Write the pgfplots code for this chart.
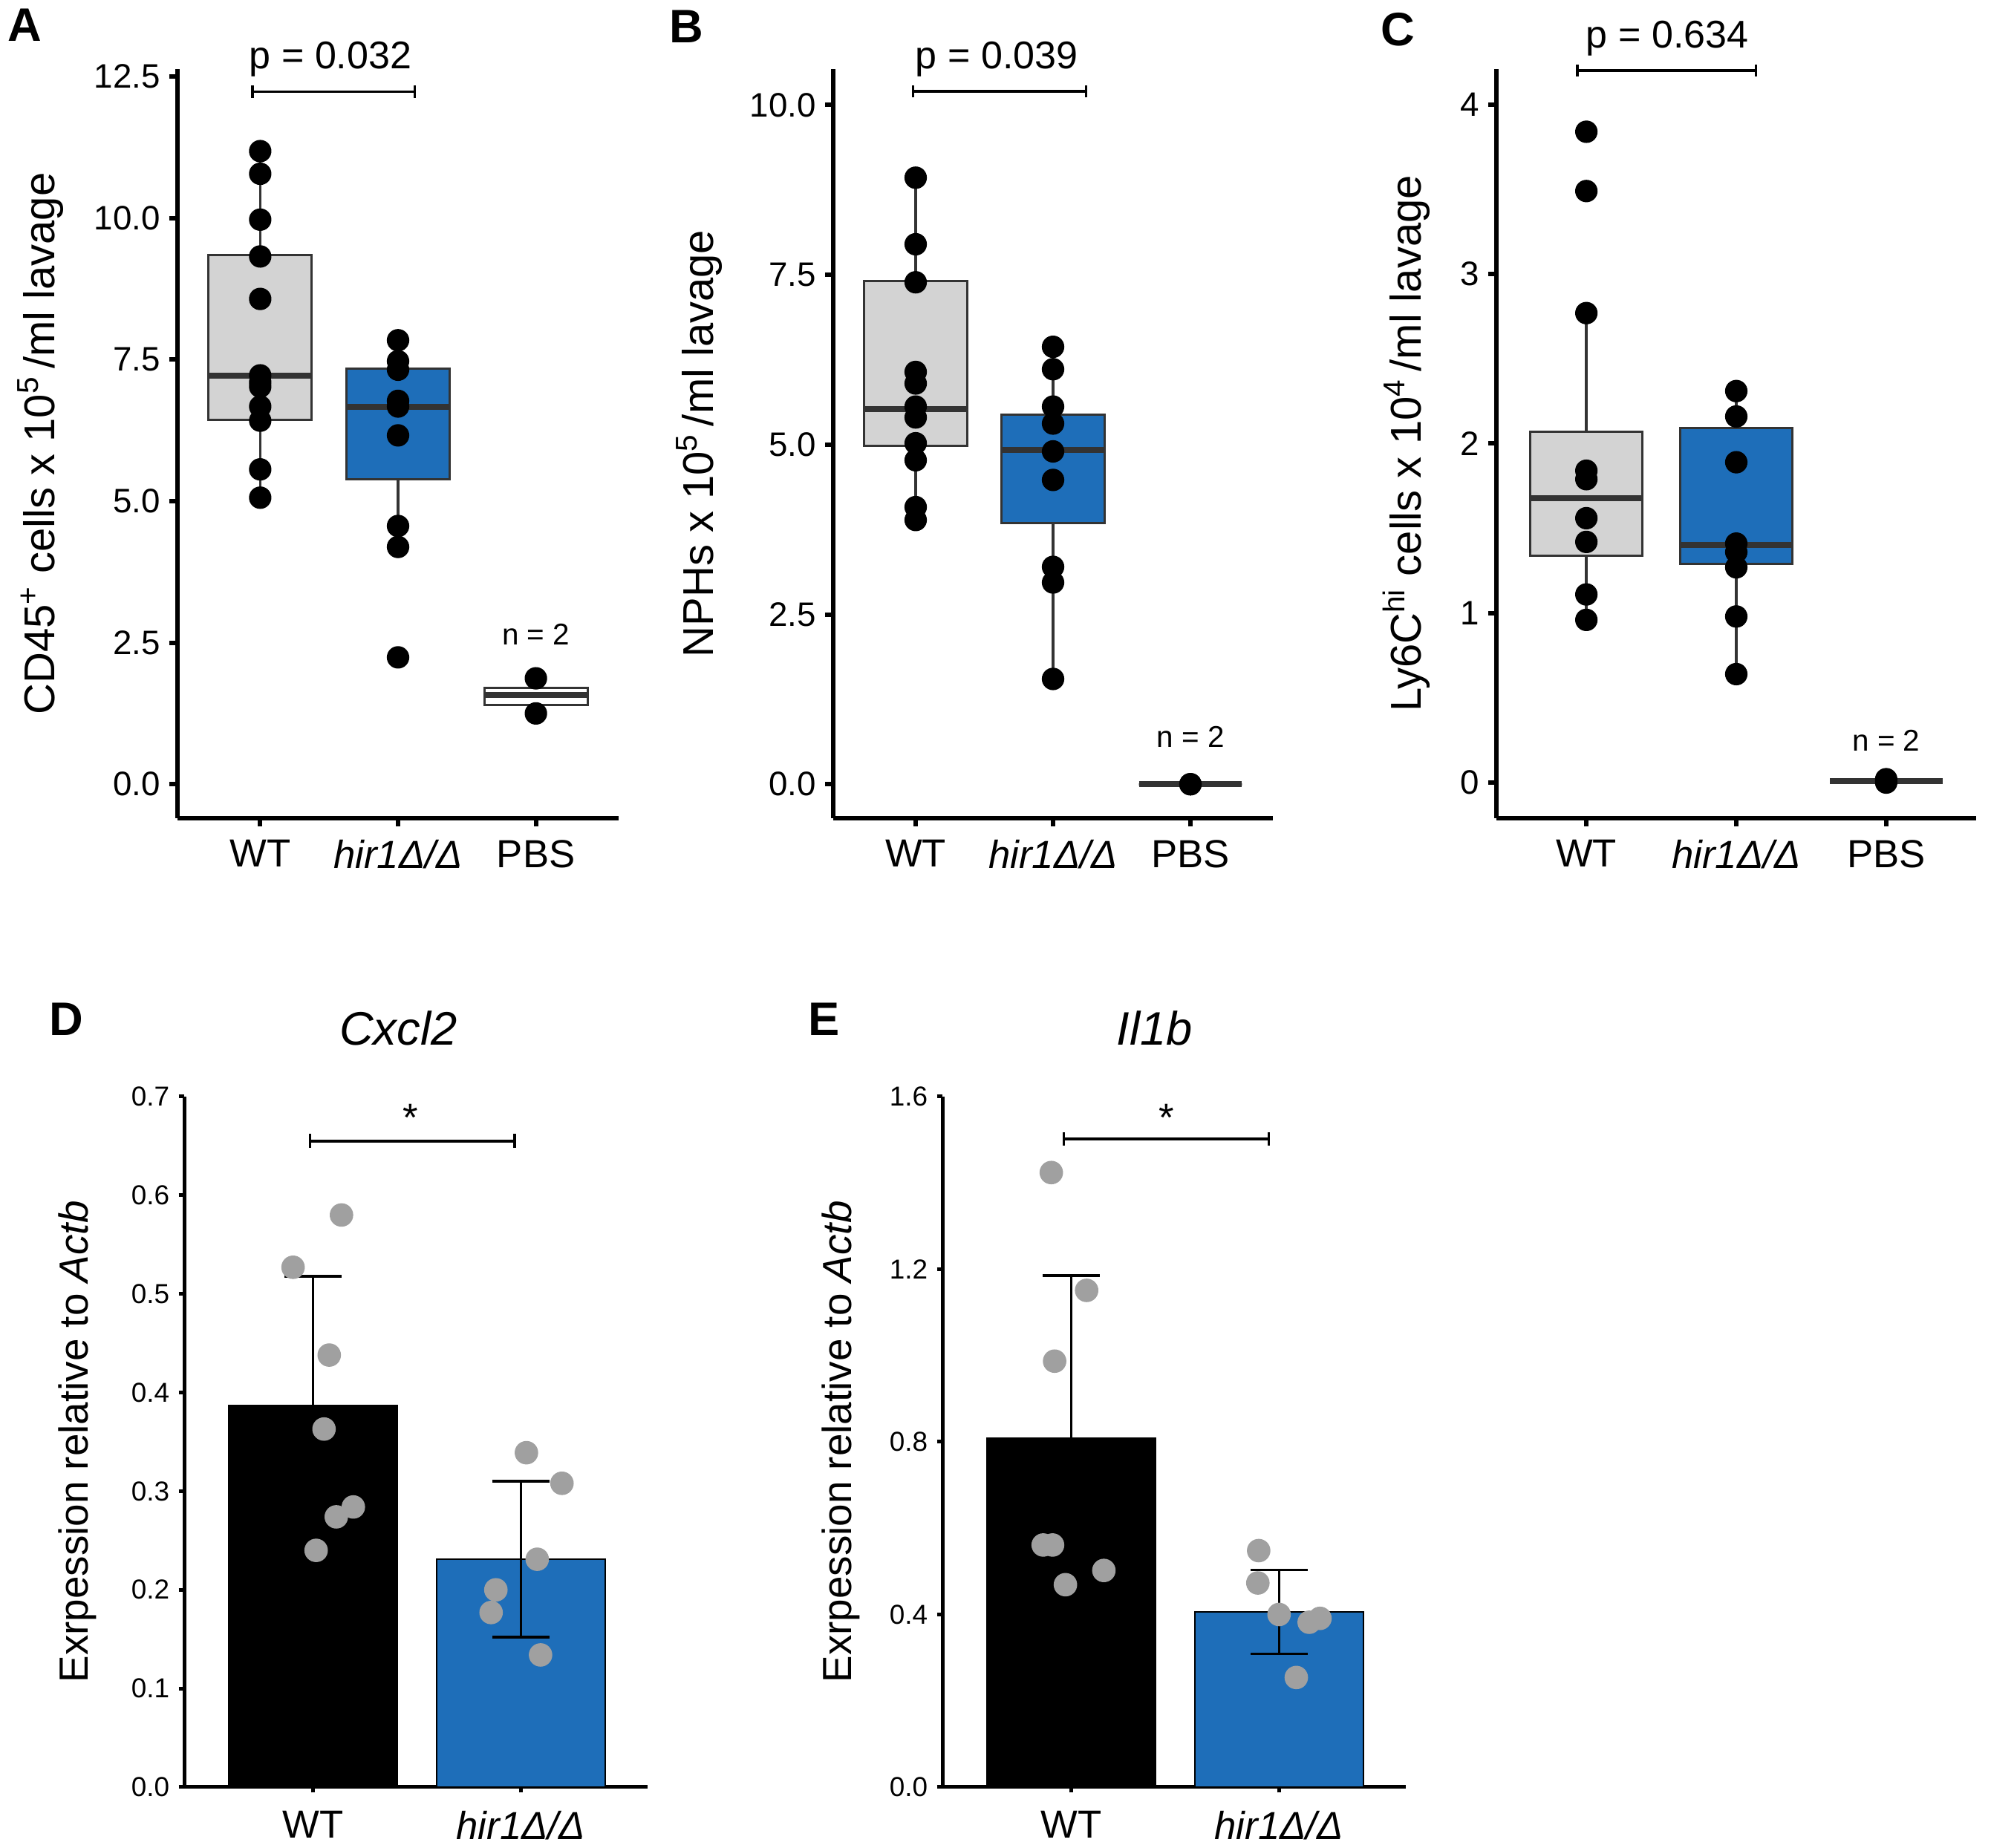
\documentclass[border=0pt]{standalone}
\usepackage{fontspec}
\setmainfont{Liberation Sans}
\usepackage{pgfplots}
\pgfplotsset{compat=1.18}
\usepgfplotslibrary{statistics}
\definecolor{boxgray}{RGB}{211,211,211}
\definecolor{hirblue}{RGB}{30,110,185}
\definecolor{dotgray}{RGB}{160,160,160}
\newcommand{\fs}[1]{\fontsize{#1}{#1}\selectfont}

\pgfplotsset{
  boxpanel/.style={
    scale only axis, height=100.9mm,
    xmin=0.4, xmax=3.6,
    axis x line*=bottom, axis y line*=left,
    axis line style={line width=0.6mm, black},
    tick align=outside, major tick length=1.1mm,
    every tick/.style={line width=0.6mm, black},
    xtick={1,2,3}, xticklabels={WT, \textit{hir1Δ/Δ}, PBS},
    x tick label style={font=\fs{15}, yshift=-0.6mm},
    y tick label style={font=\fs{13}},
    /pgf/number format/assume math mode=true,
    clip=false,
    boxplot/draw direction=y,
    boxplot/every box/.style={line width=0.3mm},
    boxplot/every whisker/.style={line width=0.35mm},
    boxplot/every median/.style={line width=0.8mm},
    boxplot/whisker extend=0,
    boxplot/box extend=0.75,
  },
  barpanel/.style={
    scale only axis, width=62.4mm, height=93mm,
    xmin=-0.62, xmax=1.61, ymin=0,
    axis x line*=bottom, axis y line*=left,
    axis line style={line width=0.5mm, black},
    tick align=outside, major tick length=0.75mm,
    every tick/.style={line width=0.5mm, black},
    xtick={0,1}, xticklabels={WT, \textit{hir1Δ/Δ}},
    x tick label style={font=\fs{15}, yshift=-1.2mm},
    y tick label style={font=\fs{10.5}},
    yticklabel style={/pgf/number format/.cd, fixed, fixed zerofill, precision=1},
    /pgf/number format/assume math mode=true,
    clip=false,
  },
  dots/.style={only marks, mark=*, mark size=4.1pt, color=black, mark options={fill=black, draw=black}},
  gdots/.style={only marks, mark=*, mark size=4.3pt, color=dotgray, mark options={fill=dotgray, draw=dotgray}},
  bracket/.style={black, line width=0.35mm, mark=none},
  errs/.style={draw=none, mark=none, forget plot,
    error bars/.cd, y dir=both, y explicit,
    error bar style={draw=black, solid, line width=0.35mm},
    error mark options={draw=black, solid, rotate=90, mark size=11pt, line width=0.35mm}},
}

\begin{document}
\begin{tikzpicture}
\path[use as bounding box] (0mm,0mm) rectangle (268.1mm,248.9mm);

% ---------------- A ----------------
\begin{axis}[boxpanel, at={(23.9mm,138.7mm)}, anchor=south west, width=59.4mm,
  ymin=-0.6, ymax=12.63, ytick={0,2.5,5,7.5,10,12.5},
  yticklabel style={/pgf/number format/.cd, fixed, fixed zerofill, precision=1},
  every axis y label/.style={at={(rel axis cs:0,0.5)}, xshift=-18.4mm, rotate=90, anchor=center, font=\fs{16.5}},
  ylabel={CD45\textsuperscript{+} cells x 10\textsuperscript{5}\,/ml lavage}]
\addplot[boxplot prepared={draw position=1, median=7.22, upper quartile=9.34, lower quartile=6.44, upper whisker=11.18, lower whisker=5.06}, fill=boxgray, draw=black!80] coordinates {};
\addplot[boxplot prepared={draw position=2, median=6.67, upper quartile=7.34, lower quartile=5.38, upper whisker=7.84, lower whisker=4.19}, fill=hirblue, draw=black!80] coordinates {};
\addplot[boxplot prepared={draw position=3, median=1.58, upper quartile=1.70, lower quartile=1.40, upper whisker=1.87, lower whisker=1.25}, fill=white, draw=black!80] coordinates {};
\addplot[dots] coordinates {(1,11.18)(1,10.78)(1,9.97)(1,9.32)(1,8.57)(1,7.22)(1,7.10)(1,7.02)(1,6.67)(1,6.42)(1,5.56)(1,5.06)};
\addplot[dots] coordinates {(2,7.84)(2,7.47)(2,7.32)(2,6.77)(2,6.67)(2,6.16)(2,4.56)(2,4.19)(2,2.24)};
\addplot[dots] coordinates {(3,1.87)(3,1.25)};
\addplot[bracket] coordinates {(0.945,12.12)(0.945,12.34)};
\addplot[bracket] coordinates {(0.945,12.23)(2.12,12.23)};
\addplot[bracket] coordinates {(2.12,12.12)(2.12,12.34)};
\node[font=\fs{14.8}] at (axis cs:1.51,12.8) {p = 0.032};
\node[font=\fs{11.5}] at (axis cs:3,2.64) {n = 2};
\end{axis}

% ---------------- B ----------------
\begin{axis}[boxpanel, at={(112.2mm,138.7mm)}, anchor=south west, width=59.2mm,
  ymin=-0.5, ymax=10.53, ytick={0,2.5,5,7.5,10},
  yticklabel style={/pgf/number format/.cd, fixed, fixed zerofill, precision=1},
  every axis y label/.style={at={(rel axis cs:0,0.5)}, xshift=-18.0mm, rotate=90, anchor=center, font=\fs{16.5}},
  ylabel={NPHs x 10\textsuperscript{5}\,/ml lavage}]
\addplot[boxplot prepared={draw position=1, median=5.52, upper quartile=7.41, lower quartile=4.98, upper whisker=8.93, lower whisker=3.89}, fill=boxgray, draw=black!80] coordinates {};
\addplot[boxplot prepared={draw position=2, median=4.92, upper quartile=5.44, lower quartile=3.85, upper whisker=6.44, lower whisker=1.55}, fill=hirblue, draw=black!80] coordinates {};
\addplot[boxplot prepared={draw position=3, median=0, upper quartile=0, lower quartile=0, upper whisker=0, lower whisker=0}, fill=white, draw=black!80] coordinates {};
\addplot[dots] coordinates {(1,8.93)(1,7.95)(1,7.39)(1,6.07)(1,5.90)(1,5.56)(1,5.40)(1,5.02)(1,4.77)(1,4.08)(1,3.89)};
\addplot[dots] coordinates {(2,6.44)(2,6.11)(2,5.56)(2,5.31)(2,4.90)(2,4.48)(2,3.20)(2,2.97)(2,1.55)};
\addplot[dots] coordinates {(3,0)(3,0)};
\addplot[bracket] coordinates {(0.98,10.11)(0.98,10.29)};
\addplot[bracket] coordinates {(0.98,10.2)(2.24,10.2)};
\addplot[bracket] coordinates {(2.24,10.11)(2.24,10.29)};
\node[font=\fs{14.8}] at (axis cs:1.59,10.67) {p = 0.039};
\node[font=\fs{11.5}] at (axis cs:3,0.70) {n = 2};
\end{axis}

% ---------------- C ----------------
\begin{axis}[boxpanel, at={(201.5mm,138.7mm)}, anchor=south west, width=64.6mm,
  ymin=-0.21, ymax=4.21, ytick={0,1,2,3,4},
  every axis y label/.style={at={(rel axis cs:0,0.5)}, xshift=-12.1mm, rotate=90, anchor=center, font=\fs{16.5}},
  ylabel={Ly6C\textsuperscript{hi} cells x 10\textsuperscript{4}\,/ml lavage}]
\addplot[boxplot prepared={draw position=1, median=1.68, upper quartile=2.07, lower quartile=1.34, upper whisker=2.77, lower whisker=0.96}, fill=boxgray, draw=black!80] coordinates {};
\addplot[boxplot prepared={draw position=2, median=1.40, upper quartile=2.09, lower quartile=1.29, upper whisker=2.31, lower whisker=0.64}, fill=hirblue, draw=black!80] coordinates {};
\addplot[boxplot prepared={draw position=3, median=0.01, upper quartile=0.01, lower quartile=0.01, upper whisker=0.01, lower whisker=0.01}, fill=white, draw=black!80] coordinates {};
\addplot[dots] coordinates {(1,3.84)(1,3.49)(1,2.77)(1,1.84)(1,1.79)(1,1.56)(1,1.42)(1,1.11)(1,0.96)};
\addplot[dots] coordinates {(2,2.31)(2,2.16)(2,1.89)(2,1.41)(2,1.36)(2,1.27)(2,0.98)(2,0.64)};
\addplot[dots] coordinates {(3,0.02)(3,0.0)};
\addplot[bracket] coordinates {(0.94,4.165)(0.94,4.235)};
\addplot[bracket] coordinates {(0.94,4.2)(2.13,4.2)};
\addplot[bracket] coordinates {(2.13,4.165)(2.13,4.235)};
\node[font=\fs{14.8}] at (axis cs:1.54,4.39) {p = 0.634};
\node[font=\fs{11.5}] at (axis cs:3,0.25) {n = 2};
\end{axis}

% ---------------- D ----------------
\begin{axis}[barpanel, at={(24.8mm,8.2mm)}, anchor=south west,
  ymax=0.7, ytick={0,0.1,...,0.7},
  every axis y label/.style={at={(rel axis cs:0,0.5)}, xshift=-14.4mm, rotate=90, anchor=center, font=\fs{15.6}},
  ylabel={Exrpession relative to \textit{Actb}}]
\addplot[ybar, bar shift=0pt, bar width=0.81, fill=black, draw=black, line width=0.2mm] coordinates {(0,0.387)};
\addplot[ybar, bar shift=0pt, bar width=0.81, fill=hirblue, draw=black, line width=0.2mm] coordinates {(1,0.231)};
\addplot[gdots] coordinates {(-0.096,0.527)(0.137,0.580)(0.078,0.438)(0.053,0.363)(0.112,0.274)(0.194,0.284)(0.015,0.240)};
\addplot[gdots] coordinates {(1.027,0.339)(1.198,0.308)(1.079,0.231)(0.88,0.200)(0.857,0.177)(1.095,0.134)};
\addplot[errs] coordinates {(0,0.387) +- (0,0.131) (1,0.231) +- (0,0.079)};
\addplot[bracket] coordinates {(-0.014,0.648)(-0.014,0.662)};
\addplot[bracket] coordinates {(-0.014,0.655)(0.97,0.655)};
\addplot[bracket] coordinates {(0.97,0.648)(0.97,0.662)};
\node[font=\fs{15}] at (axis cs:0.47,0.679) {*};
\node[font=\fs{18}\itshape] at (axis cs:0.41,0.769) {Cxcl2};
\end{axis}

% ---------------- E ----------------
\begin{axis}[barpanel, at={(126.9mm,8.2mm)}, anchor=south west,
  ymax=1.6, ytick={0,0.4,...,1.6},
  every axis y label/.style={at={(rel axis cs:0,0.5)}, xshift=-13.7mm, rotate=90, anchor=center, font=\fs{15.6}},
  ylabel={Exrpession relative to \textit{Actb}}]
\addplot[ybar, bar shift=0pt, bar width=0.81, fill=black, draw=black, line width=0.2mm] coordinates {(0,0.808)};
\addplot[ybar, bar shift=0pt, bar width=0.81, fill=hirblue, draw=black, line width=0.2mm] coordinates {(1,0.406)};
\addplot[gdots] coordinates {(-0.096,1.424)(0.074,1.151)(-0.08,0.987)(-0.135,0.561)(-0.09,0.561)(-0.028,0.469)(0.157,0.502)};
\addplot[gdots] coordinates {(0.902,0.548)(0.898,0.473)(1.0,0.400)(1.145,0.382)(1.197,0.391)(1.083,0.254)};
\addplot[errs] coordinates {(0,0.808) +- (0,0.377) (1,0.406) +- (0,0.097)};
\addplot[bracket] coordinates {(-0.036,1.487)(-0.036,1.517)};
\addplot[bracket] coordinates {(-0.036,1.502)(0.95,1.502)};
\addplot[bracket] coordinates {(0.95,1.487)(0.95,1.517)};
\node[font=\fs{15}] at (axis cs:0.46,1.552) {*};
\node[font=\fs{18}\itshape] at (axis cs:0.40,1.758) {Il1b};
\end{axis}

% panel letters
\node[font=\fs{18}\bfseries] at (3.3mm,245.5mm) {A};
\node[font=\fs{18}\bfseries] at (92.4mm,245.3mm) {B};
\node[font=\fs{18}\bfseries] at (188.2mm,244.9mm) {C};
\node[font=\fs{18}\bfseries] at (8.9mm,111.6mm) {D};
\node[font=\fs{18}\bfseries] at (111.0mm,111.6mm) {E};
\end{tikzpicture}
\end{document}
